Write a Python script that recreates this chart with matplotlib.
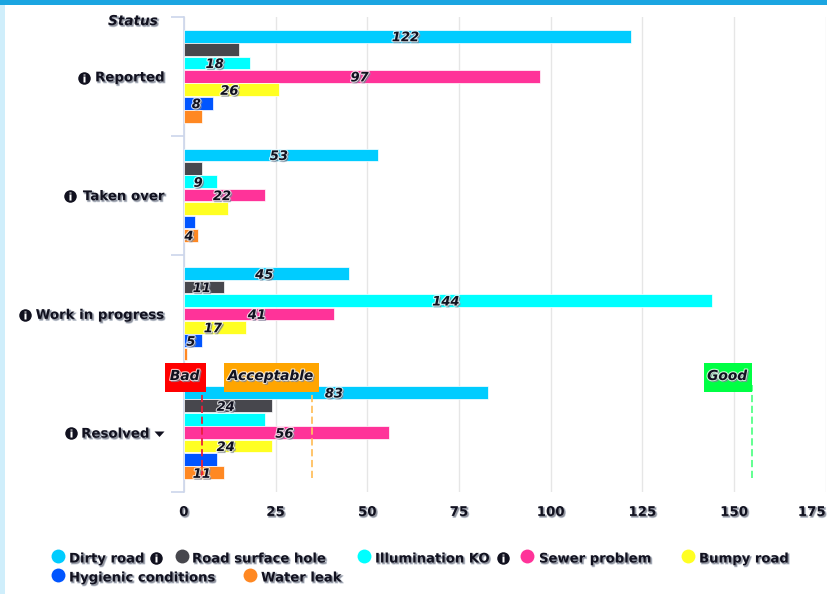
import matplotlib
matplotlib.use("Agg")
import matplotlib.pyplot as plt
import matplotlib.patheffects as pe
from matplotlib.patches import Rectangle, Polygon
from matplotlib.transforms import Affine2D

W, H = 827, 594
statuses = ["Reported", "Taken over", "Work in progress", "Resolved"]
series_names = ["Dirty road", "Road surface hole", "Illumination KO", "Sewer problem",
                "Bumpy road", "Hygienic conditions", "Water leak"]
colors = ["#00ccff", "#47474d", "#00ffff", "#ff3399", "#ffff22", "#0055ff", "#ff8822"]
dirty_road = [122, 53, 45, 83]
road_surface_hole = [15, 5, 11, 24]
illumination_ko = [18, 9, 144, 22]
sewer_problem = [97, 22, 41, 56]
bumpy_road = [26, 12, 17, 24]
hygienic_conditions = [8, 3, 5, 9]
water_leak = [5, 4, 1, 11]
series = [dirty_road, road_surface_hole, illumination_ko, sewer_problem,
          bumpy_road, hygienic_conditions, water_leak]
# which values carry a data label in the reference
labelled = [[1, 1, 1, 1], [0, 0, 1, 1], [1, 1, 1, 0], [1, 1, 1, 1],
            [1, 0, 1, 1], [1, 0, 1, 0], [0, 1, 0, 1]]
xticks = [0, 25, 50, 75, 100, 125, 150, 175]
band_names = ["Bad", "Acceptable", "Good"]
band_values = [5, 35, 155]
band_colors = ["#ff0000", "#ffa500", "#00ff44"]
band_line_colors = ["#e8203a", "#ffc060", "#55ff88"]
band_boxes = [(165, 206), (224, 319), (704, 752)]

TXT = "#11111f"
shadow = [pe.Stroke(linewidth=1.0, foreground="#8c98ac", alpha=0.45, offset=(1.0, -1.0)), pe.Normal()]
halo = [pe.Stroke(linewidth=1.0, foreground="#8c98ac", alpha=0.6, offset=(1.0, -1.0)),
        pe.Stroke(linewidth=1.6, foreground="white", alpha=0.75), pe.Normal()]

fig = plt.figure(figsize=(W / 100, H / 100), dpi=100, facecolor="white")
PX = Affine2D().scale(1, -1).translate(0, H)
fig.add_artist(Rectangle((0, 0), 5, H, transform=PX, fc="#cfeefb", ec="none"))
fig.add_artist(Rectangle((0, 0), W, 4.5, transform=PX, fc="#1ba5e1", ec="none"))

ax = fig.add_axes([183.8 / W, 1 - 492 / H, (825.8 - 183.8) / W, (492 - 17) / H])
ax.set_xlim(0, 175)
ax.set_ylim(3.5, -0.5)
ax.patch.set_alpha(0)
for s in ["top", "right", "bottom"]:
    ax.spines[s].set_visible(False)
ax.spines["left"].set_color("#ccd6eb")
ax.spines["left"].set_linewidth(1.2)
ax.grid(axis="x", color="#e6e6e6", lw=1.0, zorder=0)
ax.set_axisbelow(True)

step, bh = 0.1128, 0.107
for i, (name, vals, col, flags) in enumerate(zip(series_names, series, colors, labelled)):
    pos = [c + (i - 3) * step for c in range(len(statuses))]
    ax.barh(pos, vals, height=bh, color=col, edgecolor="white", linewidth=0.5, zorder=3, label=name)
    for p, v, f in zip(pos, vals, flags):
        if f:
            ax.text(v / 2 - 0.6, p, str(v), ha="center", va="center_baseline", fontsize=9.4, family="DejaVu Sans",
                    fontweight="bold", fontstyle="italic", color=TXT, path_effects=halo, zorder=7)

# Axis ticks and labels
ax.set_xticks(xticks)
ax.set_yticks([-0.5, 0.5, 1.5, 2.5, 3.5])
ax.set_yticklabels([])
ax.set_yticks(range(4), minor=True)
ax.tick_params(axis="y", which="major", length=9.4, width=1.2, color="#ccd6eb")
ax.tick_params(axis="y", which="minor", length=0, pad=13.6)
ax.set_yticklabels(statuses, minor=True, fontsize=9.6, fontweight="bold", color=TXT, path_effects=shadow)
# The Resolved label stops short of the caret
ax.get_yticklabels(minor=True)[3].set_x(-15 / 642)
ax.tick_params(axis="x", length=0, pad=10)
for t, v in zip(ax.get_xticklabels(), xticks):
    t.set_fontsize(9.6)
    t.set_fontweight("bold")
    t.set_color(TXT)
    t.set_path_effects(shadow)
    if v == 175:
        t.set_ha("right")

fig.text(158 / W, 1 - 21 / H, "Status", ha="right", va="center", fontsize=9.8, fontweight="bold",
         fontstyle="italic", color=TXT, path_effects=shadow)

# Threshold plot lines with their label boxes
trans = ax.get_xaxis_transform()
for name, v, bc, lc, (x0, x1) in zip(band_names, band_values, band_values and band_colors, band_line_colors, band_boxes):
    ax.plot([v, v], [(492 - 478) / 475, (492 - 385) / 475], transform=trans, color=lc, lw=1.3,
            ls=(0, (4, 2)), zorder=5)
    fig.add_artist(Rectangle((x0, 363), x1 - x0, 29, transform=PX, fc=bc, ec="none", zorder=6))
    fig.text((x0 + x1) / 2 / W - 0.001, 1 - 376 / H, name, ha="center", va="center", fontsize=9.9, fontweight="bold",
             fontstyle="italic", color=TXT, path_effects=halo, zorder=8)


def info_icon(x, y, size=12.5):
    for m, c, s in [("o", TXT, size), ("$\\mathbf{i}$", "white", size * 0.68)]:
        fig.add_artist(plt.Line2D([x], [y], marker=m, ms=s * 0.72, mfc=c, mec="none", ls="none",
                                  transform=PX, zorder=9))


for x, y in [(84, 78), (70, 196), (25, 315), (71, 433), (156, 558), (503, 558)]:
    info_icon(x, y)
fig.add_artist(Polygon([(154.5, 431.5), (164.5, 431.5), (159.5, 437)], transform=PX, fc=TXT, ec="none"))

# Legend
leg_marker = [(58, 556), (182, 556), (364, 556), (527, 556), (688, 556), (58, 575), (250, 575)]
leg_text = [(69, 559), (192, 559), (375, 559), (539, 559), (699, 559), (69, 578), (261, 578)]
for name, col, (mx, my), (tx, ty) in zip(series_names, colors, leg_marker, leg_text):
    fig.add_artist(plt.Line2D([mx], [my], marker="o", ms=10, mfc=col, mec="none", ls="none", transform=PX))
    fig.text(tx / W, 1 - ty / H, name, ha="left", va="center", fontsize=9.5, fontweight="bold", color=TXT,
             path_effects=shadow)

fig.savefig("out.png", dpi=100)
